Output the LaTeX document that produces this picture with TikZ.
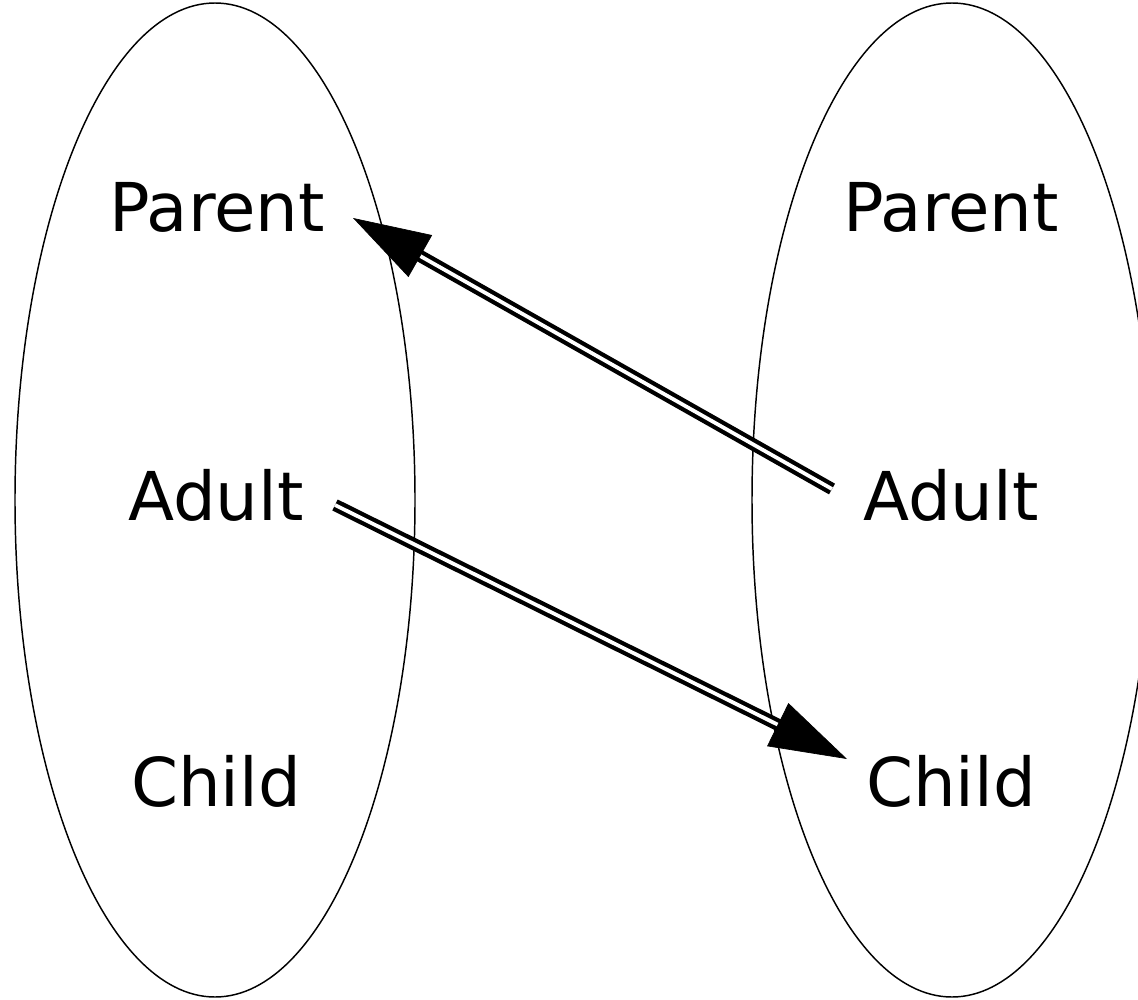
\documentclass[tikz,border=0pt]{standalone}
\usepackage{fontspec}
\setmainfont{DejaVu Sans}
\usetikzlibrary{shapes.geometric,arrows.meta,calc}
\tikzset{
  set/.style={ellipse, draw, line width=1.1pt, inner sep=0pt, minimum width=300pt, minimum height=745.5pt},
  lbl/.style={inner sep=0pt, font=\fontsize{50.5}{60}\selectfont},
  dbl/.style={double, line width=3.2pt, double distance=2.8pt},
  head/.style={-{Triangle[length=58pt,width=36pt]}, line width=0.5pt}
}
\begin{document}
\begin{tikzpicture}[x=0.75pt,y=-0.75pt]
\useasboundingbox (0,0) rectangle (1138,999);
\node[set] (L) at (215,500) {};
\node[set] (R) at (952,500) {};
\node[lbl] (p1) at (217,207) {Parent};
\node[lbl] (a1) at (216,495) {Adult};
\node[lbl] (c1) at (216,781) {Child};
\node[lbl] (p2) at (951,207) {Parent};
\node[lbl] (a2) at (951,495) {Adult};
\node[lbl] (c2) at (951,781) {Child};
% connector Adult(right) -> Parent(left)
\coordinate (s1) at (832,489);
\coordinate (t1) at (353,218);
\draw[dbl] (s1) -- ($(t1)!52pt!(s1)$);
\draw[head] ($(t1)!57pt!(s1)$) -- (t1);
% connector Adult(left) -> Child(right)
\coordinate (s2) at (335,505);
\coordinate (t2) at (847,759);
\draw[dbl] (s2) -- ($(t2)!52pt!(s2)$);
\draw[head] ($(t2)!57pt!(s2)$) -- (t2);
\end{tikzpicture}
\end{document}
